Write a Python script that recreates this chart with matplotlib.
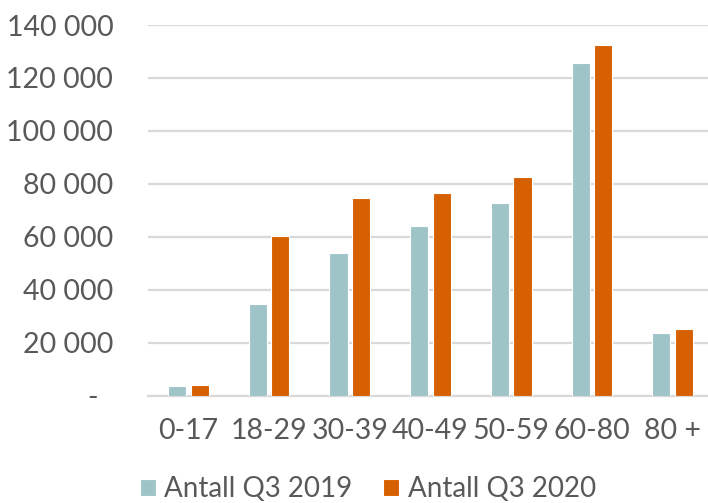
import matplotlib

matplotlib.use("Agg")
import matplotlib.pyplot as plt  # noqa: E402
import numpy as np  # noqa: E402

# data
age_groups = ["0-17", "18-29", "30-39", "40-49", "50-59", "60-80", "80 +"]
antall_2019 = [3650, 34700, 53800, 63900, 72900, 125700, 23800]
antall_2020 = [3900, 60100, 74600, 76600, 82400, 132400, 25200]
y_ticks = [0, 20000, 40000, 60000, 80000, 100000, 120000, 140000]
y_tick_labels = ["-  ", "20 000", "40 000", "60 000", "80 000",
                 "100 000", "120 000", "140 000"]

BLUE = "#9EC4C8"
ORANGE = "#D65F00"
TEXT = "#595959"
GRID = "#D9D9D9"

plt.rcParams["font.family"] = ["Lato", "DejaVu Sans"]

fig = plt.figure(figsize=(7.08, 5.03), dpi=100)
ax = fig.add_axes([148 / 708, 1 - 395.5 / 503, 565 / 708, 370.5 / 503])

x = np.arange(len(age_groups))
w = 0.225
off = 0.14
ax.bar(x - off, antall_2019, w, color=BLUE, edgecolor="white", linewidth=0.8,
       label="Antall Q3 2019", zorder=3)
ax.bar(x + off, antall_2020, w, color=ORANGE, edgecolor="white", linewidth=0.8,
       label="Antall Q3 2020", zorder=3)

ax.set_xlim(-0.5, len(age_groups) - 0.5)
ax.set_ylim(0, 140000)
ax.set_yticks(y_ticks)
ax.set_yticklabels(y_tick_labels)
ax.set_xticks(x)
ax.set_xticklabels(age_groups)

ax.grid(axis="y", color=GRID, linewidth=1.6, zorder=0)
for side in ["top", "right", "left"]:
    ax.spines[side].set_visible(False)
ax.spines["bottom"].set_color(GRID)
ax.spines["bottom"].set_linewidth(1.6)
ax.tick_params(axis="both", length=0, labelsize=20.5, colors=TEXT)
ax.tick_params(axis="y", pad=25)
ax.tick_params(axis="x", pad=16)

fig.legend(loc="lower left", bbox_to_anchor=(140 / 708, 1 / 503), ncol=2,
           frameon=False, fontsize=20, labelcolor=TEXT,
           borderpad=0, borderaxespad=0,
           handlelength=0.58, handleheight=0.58, handletextpad=0.3,
           columnspacing=1.1)

fig.savefig("out.png", dpi=100)
